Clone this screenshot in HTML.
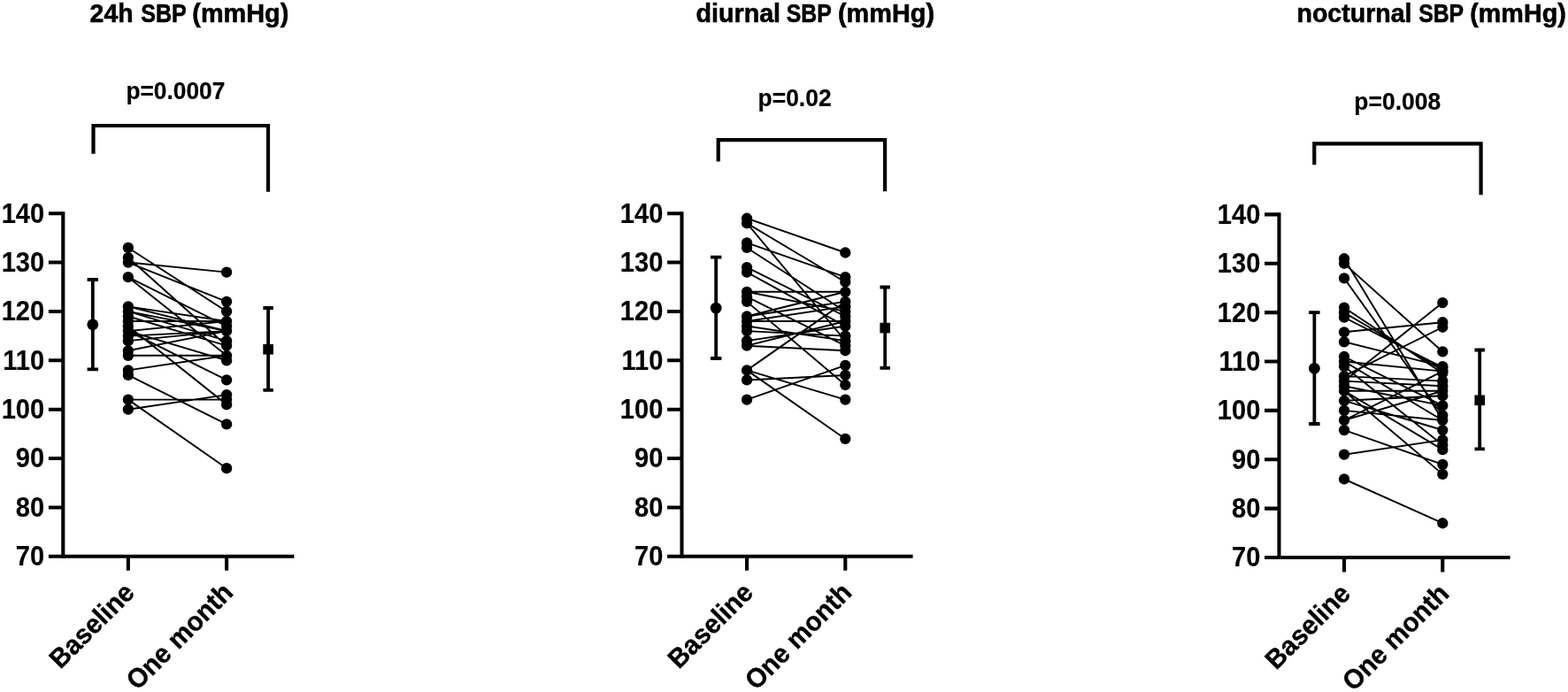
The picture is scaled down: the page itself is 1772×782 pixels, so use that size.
<!DOCTYPE html>
<html lang="en">
<head>
<meta charset="utf-8">
<title>SBP at baseline and one month</title>
<style>
html,body{margin:0;padding:0;background:#fff;}
body{width:1772px;height:782px;overflow:hidden;}
svg{display:block;}
text{font-family:"Liberation Sans",sans-serif;font-weight:bold;fill:#000;}
.ax{stroke:#000;stroke-width:4.1;fill:none;stroke-linecap:butt;}
.br{stroke:#000;stroke-width:4.2;fill:none;stroke-linejoin:miter;}
.eb{stroke:#000;stroke-width:3.8;fill:none;}
.ln{stroke:#000;stroke-width:1.9;fill:none;}
.tk{font-size:29.8px;text-anchor:end;stroke:#000;stroke-width:0.15px;}
.xl{font-size:29.4px;text-anchor:end;stroke:#000;stroke-width:0.35px;}
.ti{font-size:30px;stroke:#000;stroke-width:0.6px;}
.pv{font-size:27.3px;stroke:#000;stroke-width:0.2px;}
</style>
</head>
<body>
<svg width="1772" height="782" viewBox="0 0 1772 782" role="img" aria-label="Paired systolic blood pressure at baseline and one month">
<rect x="0" y="0" width="1772" height="782" fill="#fff"/>
<g>
<text class="ti" y="25.2"><tspan x="101.6" textLength="49" lengthAdjust="spacingAndGlyphs">24h</tspan> <tspan x="159.3" textLength="51" lengthAdjust="spacingAndGlyphs">SBP</tspan> <tspan x="217.3" textLength="109" lengthAdjust="spacingAndGlyphs">(mmHg)</tspan></text>
<text class="pv" x="142.4" y="111.5" textLength="112" lengthAdjust="spacingAndGlyphs">p=0.0007</text>
<path class="br" d="M105.5 173.7 V142 H303 V216.8"/>
<path class="ax" d="M71.3 239.15 V630.85"/>
<path class="ax" d="M54.9 628.8 H332.4"/>
<path class="ax" d="M54.9 573.43 H71.3 M54.9 518.06 H71.3 M54.9 462.69 H71.3 M54.9 407.31 H71.3 M54.9 351.94 H71.3 M54.9 296.57 H71.3 M54.9 241.2 H71.3 M144.85 628.8 V644.7 M256.1 628.8 V644.7"/>
<text class="tk" transform="translate(50.1 639.2) scale(0.975 1.03)">70</text>
<text class="tk" transform="translate(50.1 583.83) scale(0.975 1.03)">80</text>
<text class="tk" transform="translate(50.1 528.46) scale(0.975 1.03)">90</text>
<text class="tk" transform="translate(50.1 473.09) scale(0.975 1.03)">100</text>
<text class="tk" transform="translate(50.1 417.71) scale(0.975 1.03)">110</text>
<text class="tk" transform="translate(50.1 362.34) scale(0.975 1.03)">120</text>
<text class="tk" transform="translate(50.1 306.97) scale(0.975 1.03)">130</text>
<text class="tk" transform="translate(50.1 251.6) scale(0.975 1.03)">140</text>
<text class="xl" transform="translate(153.65 671.4) rotate(-45) scale(1 1.04)">Baseline</text>
<text class="xl" transform="translate(264.9 671.4) rotate(-45) scale(1 1.04)">One month</text>
<path class="eb" d="M98.6 316 H111 M98.6 417.3 H111 M104.8 316 V417.3"/>
<circle cx="104.8" cy="366.8" r="6.4"/>
<path class="eb" d="M297.4 348 H308.8 M297.4 440.8 H308.8 M303.1 348 V440.8"/>
<rect x="297.3" y="389" width="11.6" height="11.6"/>
<path class="ln" d="M144.85 279.96 L256.1 351.94 M144.85 291.03 L256.1 390.7 M144.85 296.57 L256.1 307.65 M144.85 296.57 L256.1 340.87 M144.85 313.18 L256.1 368.55 M144.85 313.18 L256.1 401.78 M144.85 346.41 L256.1 363.02 M144.85 346.41 L256.1 374.09 M144.85 351.94 L256.1 374.09 M144.85 357.48 L256.1 390.7 M144.85 363.02 L256.1 363.02 M144.85 374.09 L256.1 363.02 M144.85 368.55 L256.1 457.15 M144.85 374.09 L256.1 429.46 M144.85 379.63 L256.1 374.09 M144.85 385.17 L256.1 374.09 M144.85 396.24 L256.1 374.09 M144.85 374.09 L256.1 407.31 M144.85 401.78 L256.1 401.78 M144.85 418.39 L256.1 401.78 M144.85 423.93 L256.1 479.3 M144.85 451.61 L256.1 451.61 M144.85 462.69 L256.1 446.07 M144.85 451.61 L256.1 529.13 M144.85 351.94 L256.1 385.17"/>
<circle cx="144.85" cy="279.96" r="6.15"/>
<circle cx="256.1" cy="351.94" r="6.15"/>
<circle cx="144.85" cy="291.03" r="6.15"/>
<circle cx="256.1" cy="390.7" r="6.15"/>
<circle cx="144.85" cy="296.57" r="6.15"/>
<circle cx="256.1" cy="307.65" r="6.15"/>
<circle cx="256.1" cy="340.87" r="6.15"/>
<circle cx="144.85" cy="313.18" r="6.15"/>
<circle cx="256.1" cy="368.55" r="6.15"/>
<circle cx="256.1" cy="401.78" r="6.15"/>
<circle cx="144.85" cy="346.41" r="6.15"/>
<circle cx="256.1" cy="363.02" r="6.15"/>
<circle cx="256.1" cy="374.09" r="6.15"/>
<circle cx="144.85" cy="351.94" r="6.15"/>
<circle cx="144.85" cy="357.48" r="6.15"/>
<circle cx="144.85" cy="363.02" r="6.15"/>
<circle cx="144.85" cy="374.09" r="6.15"/>
<circle cx="144.85" cy="368.55" r="6.15"/>
<circle cx="256.1" cy="457.15" r="6.15"/>
<circle cx="256.1" cy="429.46" r="6.15"/>
<circle cx="144.85" cy="379.63" r="6.15"/>
<circle cx="144.85" cy="385.17" r="6.15"/>
<circle cx="144.85" cy="396.24" r="6.15"/>
<circle cx="256.1" cy="407.31" r="6.15"/>
<circle cx="144.85" cy="401.78" r="6.15"/>
<circle cx="144.85" cy="418.39" r="6.15"/>
<circle cx="144.85" cy="423.93" r="6.15"/>
<circle cx="256.1" cy="479.3" r="6.15"/>
<circle cx="144.85" cy="451.61" r="6.15"/>
<circle cx="256.1" cy="451.61" r="6.15"/>
<circle cx="144.85" cy="462.69" r="6.15"/>
<circle cx="256.1" cy="446.07" r="6.15"/>
<circle cx="256.1" cy="529.13" r="6.15"/>
<circle cx="256.1" cy="385.17" r="6.15"/>
</g>
<g>
<text class="ti" y="25.2"><tspan x="786.5" textLength="95.6" lengthAdjust="spacingAndGlyphs">diurnal</tspan> <tspan x="888.8" textLength="50.5" lengthAdjust="spacingAndGlyphs">SBP</tspan> <tspan x="947" textLength="109" lengthAdjust="spacingAndGlyphs">(mmHg)</tspan></text>
<text class="pv" x="856.6" y="120.3" textLength="83" lengthAdjust="spacingAndGlyphs">p=0.02</text>
<path class="br" d="M811.7 182.5 V158.2 H1000.1 V216.3"/>
<path class="ax" d="M770.5 239.15 V630.85"/>
<path class="ax" d="M754.1 628.8 H1031.6"/>
<path class="ax" d="M754.1 573.43 H770.5 M754.1 518.06 H770.5 M754.1 462.69 H770.5 M754.1 407.31 H770.5 M754.1 351.94 H770.5 M754.1 296.57 H770.5 M754.1 241.2 H770.5 M844.05 628.8 V644.7 M955.3 628.8 V644.7"/>
<text class="tk" transform="translate(749.3 639.2) scale(0.975 1.03)">70</text>
<text class="tk" transform="translate(749.3 583.83) scale(0.975 1.03)">80</text>
<text class="tk" transform="translate(749.3 528.46) scale(0.975 1.03)">90</text>
<text class="tk" transform="translate(749.3 473.09) scale(0.975 1.03)">100</text>
<text class="tk" transform="translate(749.3 417.71) scale(0.975 1.03)">110</text>
<text class="tk" transform="translate(749.3 362.34) scale(0.975 1.03)">120</text>
<text class="tk" transform="translate(749.3 306.97) scale(0.975 1.03)">130</text>
<text class="tk" transform="translate(749.3 251.6) scale(0.975 1.03)">140</text>
<text class="xl" transform="translate(852.85 671.4) rotate(-45) scale(1 1.04)">Baseline</text>
<text class="xl" transform="translate(964.1 671.4) rotate(-45) scale(1 1.04)">One month</text>
<path class="eb" d="M803 290.7 H815.4 M803 405 H815.4 M809.2 290.7 V405"/>
<circle cx="809.2" cy="348.1" r="6.4"/>
<path class="eb" d="M994.5 324.5 H1005.9 M994.5 415.9 H1005.9 M1000.2 324.5 V415.9"/>
<rect x="994.4" y="364.8" width="11.6" height="11.6"/>
<path class="ln" d="M844.05 246.74 L955.3 285.5 M844.05 252.27 L955.3 318.72 M844.05 252.27 L955.3 385.17 M844.05 274.42 L955.3 313.18 M844.05 279.96 L955.3 351.94 M844.05 302.11 L955.3 357.48 M844.05 307.65 L955.3 368.55 M844.05 329.79 L955.3 329.79 M844.05 329.79 L955.3 351.94 M844.05 335.33 L955.3 390.7 M844.05 340.87 L955.3 435 M844.05 357.48 L955.3 340.87 M844.05 357.48 L955.3 329.79 M844.05 363.02 L955.3 346.41 M844.05 363.02 L955.3 363.02 M844.05 368.55 L955.3 385.17 M844.05 374.09 L955.3 379.63 M844.05 385.17 L955.3 368.55 M844.05 390.7 L955.3 396.24 M844.05 390.7 L955.3 363.02 M844.05 418.39 L955.3 340.87 M844.05 418.39 L955.3 451.61 M844.05 418.39 L955.3 495.91 M844.05 429.46 L955.3 423.93 M844.05 451.61 L955.3 412.85"/>
<circle cx="844.05" cy="246.74" r="6.15"/>
<circle cx="955.3" cy="285.5" r="6.15"/>
<circle cx="844.05" cy="252.27" r="6.15"/>
<circle cx="955.3" cy="318.72" r="6.15"/>
<circle cx="955.3" cy="385.17" r="6.15"/>
<circle cx="844.05" cy="274.42" r="6.15"/>
<circle cx="955.3" cy="313.18" r="6.15"/>
<circle cx="844.05" cy="279.96" r="6.15"/>
<circle cx="955.3" cy="351.94" r="6.15"/>
<circle cx="844.05" cy="302.11" r="6.15"/>
<circle cx="955.3" cy="357.48" r="6.15"/>
<circle cx="844.05" cy="307.65" r="6.15"/>
<circle cx="955.3" cy="368.55" r="6.15"/>
<circle cx="844.05" cy="329.79" r="6.15"/>
<circle cx="955.3" cy="329.79" r="6.15"/>
<circle cx="844.05" cy="335.33" r="6.15"/>
<circle cx="955.3" cy="390.7" r="6.15"/>
<circle cx="844.05" cy="340.87" r="6.15"/>
<circle cx="955.3" cy="435" r="6.15"/>
<circle cx="844.05" cy="357.48" r="6.15"/>
<circle cx="955.3" cy="340.87" r="6.15"/>
<circle cx="844.05" cy="363.02" r="6.15"/>
<circle cx="955.3" cy="346.41" r="6.15"/>
<circle cx="955.3" cy="363.02" r="6.15"/>
<circle cx="844.05" cy="368.55" r="6.15"/>
<circle cx="844.05" cy="374.09" r="6.15"/>
<circle cx="955.3" cy="379.63" r="6.15"/>
<circle cx="844.05" cy="385.17" r="6.15"/>
<circle cx="844.05" cy="390.7" r="6.15"/>
<circle cx="955.3" cy="396.24" r="6.15"/>
<circle cx="844.05" cy="418.39" r="6.15"/>
<circle cx="955.3" cy="451.61" r="6.15"/>
<circle cx="955.3" cy="495.91" r="6.15"/>
<circle cx="844.05" cy="429.46" r="6.15"/>
<circle cx="955.3" cy="423.93" r="6.15"/>
<circle cx="844.05" cy="451.61" r="6.15"/>
<circle cx="955.3" cy="412.85" r="6.15"/>
</g>
<g>
<text class="ti" y="25.2"><tspan x="1465.5" textLength="130" lengthAdjust="spacingAndGlyphs">nocturnal</tspan> <tspan x="1603.2" textLength="50.5" lengthAdjust="spacingAndGlyphs">SBP</tspan> <tspan x="1661.2" textLength="108.6" lengthAdjust="spacingAndGlyphs">(mmHg)</tspan></text>
<text class="pv" x="1530.3" y="124.4" textLength="97.9" lengthAdjust="spacingAndGlyphs">p=0.008</text>
<path class="br" d="M1485.3 186.2 V162.3 H1673.6 V220.3"/>
<path class="ax" d="M1445.5 240.35 V632.05"/>
<path class="ax" d="M1429.1 630 H1706.6"/>
<path class="ax" d="M1429.1 574.63 H1445.5 M1429.1 519.26 H1445.5 M1429.1 463.89 H1445.5 M1429.1 408.51 H1445.5 M1429.1 353.14 H1445.5 M1429.1 297.77 H1445.5 M1429.1 242.4 H1445.5 M1519.05 630 V646.5 M1630.3 630 V646.5"/>
<text class="tk" transform="translate(1424.3 640.4) scale(0.975 1.03)">70</text>
<text class="tk" transform="translate(1424.3 585.03) scale(0.975 1.03)">80</text>
<text class="tk" transform="translate(1424.3 529.66) scale(0.975 1.03)">90</text>
<text class="tk" transform="translate(1424.3 474.29) scale(0.975 1.03)">100</text>
<text class="tk" transform="translate(1424.3 418.91) scale(0.975 1.03)">110</text>
<text class="tk" transform="translate(1424.3 363.54) scale(0.975 1.03)">120</text>
<text class="tk" transform="translate(1424.3 308.17) scale(0.975 1.03)">130</text>
<text class="tk" transform="translate(1424.3 252.8) scale(0.975 1.03)">140</text>
<text class="xl" transform="translate(1527.85 672.6) rotate(-45) scale(1 1.04)">Baseline</text>
<text class="xl" transform="translate(1639.1 672.6) rotate(-45) scale(1 1.04)">One month</text>
<path class="eb" d="M1479.2 353.2 H1491.6 M1479.2 479 H1491.6 M1485.4 353.2 V479"/>
<circle cx="1485.4" cy="416.3" r="6.4"/>
<path class="eb" d="M1666.5 395.5 H1677.9 M1666.5 507.4 H1677.9 M1672.2 395.5 V507.4"/>
<rect x="1666.4" y="446.5" width="11.6" height="11.6"/>
<path class="ln" d="M1519.05 292.23 L1630.3 474.96 M1519.05 297.77 L1630.3 397.44 M1519.05 314.38 L1630.3 469.42 M1519.05 347.61 L1630.3 421.8 M1519.05 353.14 L1630.3 418.48 M1519.05 358.68 L1630.3 415.16 M1519.05 375.29 L1630.3 364.22 M1519.05 386.37 L1630.3 414.05 M1519.05 402.98 L1630.3 458.35 M1519.05 408.51 L1630.3 419.59 M1519.05 414.05 L1630.3 502.65 M1519.05 425.13 L1630.3 369.75 M1519.05 425.13 L1630.3 430.66 M1519.05 430.66 L1630.3 342.07 M1519.05 430.66 L1630.3 436.2 M1519.05 436.2 L1630.3 458.35 M1519.05 441.74 L1630.3 535.87 M1519.05 441.74 L1630.3 508.18 M1519.05 452.81 L1630.3 447.27 M1519.05 452.81 L1630.3 486.03 M1519.05 463.89 L1630.3 474.96 M1519.05 474.96 L1630.3 441.74 M1519.05 474.96 L1630.3 419.59 M1519.05 486.03 L1630.3 524.79 M1519.05 513.72 L1630.3 497.11 M1519.05 541.41 L1630.3 591.24 M1519.05 408.51 L1630.3 474.96 M1519.05 441.74 L1630.3 441.74"/>
<circle cx="1519.05" cy="292.23" r="6.15"/>
<circle cx="1630.3" cy="474.96" r="6.15"/>
<circle cx="1519.05" cy="297.77" r="6.15"/>
<circle cx="1630.3" cy="397.44" r="6.15"/>
<circle cx="1519.05" cy="314.38" r="6.15"/>
<circle cx="1630.3" cy="469.42" r="6.15"/>
<circle cx="1519.05" cy="347.61" r="6.15"/>
<circle cx="1630.3" cy="421.8" r="6.15"/>
<circle cx="1519.05" cy="353.14" r="6.15"/>
<circle cx="1630.3" cy="418.48" r="6.15"/>
<circle cx="1519.05" cy="358.68" r="6.15"/>
<circle cx="1630.3" cy="415.16" r="6.15"/>
<circle cx="1519.05" cy="375.29" r="6.15"/>
<circle cx="1630.3" cy="364.22" r="6.15"/>
<circle cx="1519.05" cy="386.37" r="6.15"/>
<circle cx="1630.3" cy="414.05" r="6.15"/>
<circle cx="1519.05" cy="402.98" r="6.15"/>
<circle cx="1630.3" cy="458.35" r="6.15"/>
<circle cx="1519.05" cy="408.51" r="6.15"/>
<circle cx="1630.3" cy="419.59" r="6.15"/>
<circle cx="1519.05" cy="414.05" r="6.15"/>
<circle cx="1630.3" cy="502.65" r="6.15"/>
<circle cx="1519.05" cy="425.13" r="6.15"/>
<circle cx="1630.3" cy="369.75" r="6.15"/>
<circle cx="1630.3" cy="430.66" r="6.15"/>
<circle cx="1519.05" cy="430.66" r="6.15"/>
<circle cx="1630.3" cy="342.07" r="6.15"/>
<circle cx="1630.3" cy="436.2" r="6.15"/>
<circle cx="1519.05" cy="436.2" r="6.15"/>
<circle cx="1519.05" cy="441.74" r="6.15"/>
<circle cx="1630.3" cy="535.87" r="6.15"/>
<circle cx="1630.3" cy="508.18" r="6.15"/>
<circle cx="1519.05" cy="452.81" r="6.15"/>
<circle cx="1630.3" cy="447.27" r="6.15"/>
<circle cx="1630.3" cy="486.03" r="6.15"/>
<circle cx="1519.05" cy="463.89" r="6.15"/>
<circle cx="1519.05" cy="474.96" r="6.15"/>
<circle cx="1630.3" cy="441.74" r="6.15"/>
<circle cx="1519.05" cy="486.03" r="6.15"/>
<circle cx="1630.3" cy="524.79" r="6.15"/>
<circle cx="1519.05" cy="513.72" r="6.15"/>
<circle cx="1630.3" cy="497.11" r="6.15"/>
<circle cx="1519.05" cy="541.41" r="6.15"/>
<circle cx="1630.3" cy="591.24" r="6.15"/>
</g>
</svg>
</body>
</html>
